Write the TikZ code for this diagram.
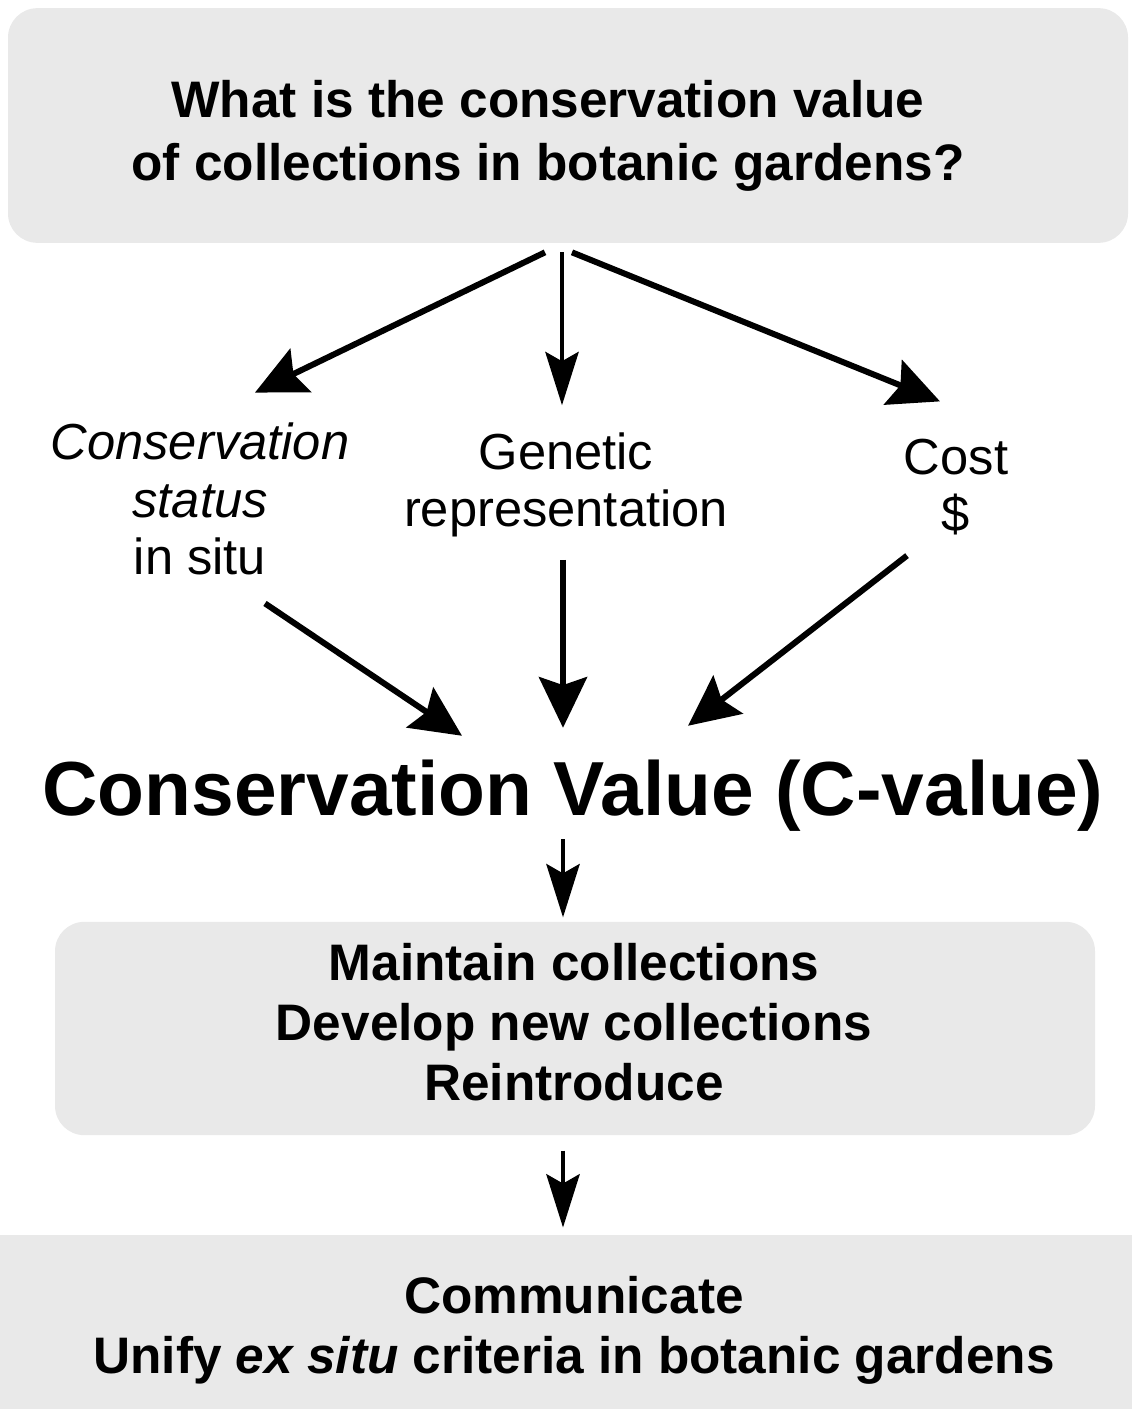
\documentclass[tikz,border=0pt]{standalone}
\usepackage{fontspec}
\setmainfont{Liberation Sans}
\usetikzlibrary{arrows.meta}

\tikzset{every picture/.style={line width=0.75pt}}
\tikzset{
  greybox/.style={fill={rgb, 255:red, 233; green, 233; blue, 233 }, draw=none, rounded corners=22pt, inner sep=0pt},
  boxtext/.style={align=center, inner sep=0pt, font=\fontsize{38.5}{45}\selectfont\bfseries},
  labeltext/.style={align=center, inner sep=0pt, font=\fontsize{38}{43}\selectfont},
  fatarrow/.style={line width=4.5pt, -{Stealth[length=38pt,width=36pt,inset=6pt]}},
  thinarrow/.style={line width=3pt, -{Stealth[length=40pt,width=25pt,inset=7pt]}},
}

\begin{document}
\begin{tikzpicture}[x=0.75pt,y=0.75pt,yscale=-1,xscale=1]
\useasboundingbox (0,0) rectangle (1132,1409);

% question box
\node[greybox, minimum width=840pt, minimum height=176pt] (topbox) at (568,125.5) {};
\node[boxtext, font=\fontsize{38.5}{47}\selectfont\bfseries] (question) at (548,136) {What is the conservation value\\of collections in botanic gardens?};

% the three criteria
\node[labeltext] (status) at (200,499) {\textit{Conservation}\\\textit{status}\\in situ};
\node[labeltext] (genetic) at (566,485) {Genetic\\representation};
\node[labeltext] (cost) at (956,487) {Cost\\\$};

% C-value
\node[inner sep=0pt, font=\fontsize{57.5}{60}\selectfont\bfseries] (cvalue) at (573,796) {Conservation Value (C-value)};

% actions box
\node[greybox, minimum width=780pt, minimum height=160pt] (midbox) at (575,1028.5) {};
\node[boxtext] (actions) at (574,1022) {Maintain collections\\Develop new collections\\Reintroduce};

% bottom band
\node[greybox, rounded corners=0pt, minimum width=849pt, minimum height=130.5pt] (bottombox) at (566,1322) {};
\node[boxtext] (communicate) at (574,1330) {Communicate\\Unify \textit{ex situ} criteria in botanic gardens};

% arrows out of the question
\draw[fatarrow] ([shift={(-23,9)}]topbox.south) -- ([shift={(55,-30)}]status.north);
\draw[thinarrow] ([shift={(-6,9)}]topbox.south) -- ([shift={(-4,-27)}]genetic.north);
\draw[fatarrow] ([shift={(4,9)}]topbox.south) -- ([shift={(-16,-37)}]cost.north);

% arrows into the C-value
\draw[fatarrow] ([shift={(65,28)}]status.south) -- ([shift={(-111,-24)}]cvalue.north);
\draw[fatarrow] ([shift={(-3,22)}]genetic.south) -- ([shift={(-10,-32)}]cvalue.north);
\draw[fatarrow] ([shift={(-49,20)}]cost.south) -- ([shift={(115,-34)}]cvalue.north);

% down the chain
\draw[thinarrow] ([shift={(-10,7)}]cvalue.south) -- ([shift={(-12,-4)}]midbox.north);
\draw[thinarrow] ([shift={(-12,15)}]midbox.south) -- ([shift={(-3,-7)}]bottombox.north);

\end{tikzpicture}
\end{document}
